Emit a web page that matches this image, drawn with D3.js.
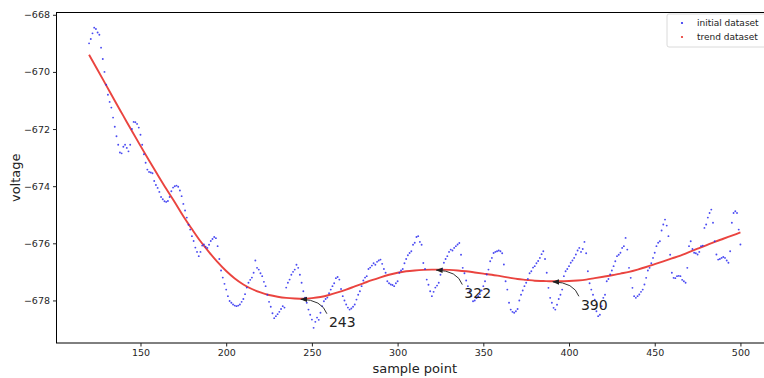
<!DOCTYPE html>
<html><head><meta charset="utf-8">
<script src="https://cdn.jsdelivr.net/npm/d3@7"></script>
<style>body{margin:0;background:#fff}svg{display:block}text{font-family:"DejaVu Sans",sans-serif}</style>
</head><body><svg id="c" width="764" height="378"></svg>
<script>
// ---- data ----
const sampleStart = 120; // initial dataset: one value per sample point 120..500
const initialValues = [
-669.00,-668.85,-668.65,-668.45,-668.50,-668.62,-668.70,-669.15,-669.55,-670.00,
-670.45,-670.80,-671.05,-671.25,-671.60,-671.92,-672.25,-672.55,-672.82,-672.85,
-672.62,-672.55,-672.66,-672.78,-672.55,-672.00,-671.75,-671.76,-671.82,-671.95,
-672.20,-672.55,-672.88,-673.18,-673.42,-673.50,-673.52,-673.55,-673.82,-673.96,
-674.06,-674.20,-674.38,-674.46,-674.53,-674.55,-674.52,-674.38,-674.18,-674.05,
-674.00,-673.98,-674.02,-674.15,-674.35,-674.62,-674.85,-675.10,-675.35,-675.52,
-675.75,-675.92,-676.15,-676.30,-676.45,-676.30,-676.08,-676.04,-676.12,-676.16,
-676.05,-675.92,-675.85,-675.78,-675.82,-676.10,-676.55,-676.95,-677.20,-677.42,
-677.62,-677.85,-678.02,-678.08,-678.14,-678.18,-678.20,-678.18,-678.14,-678.05,
-677.95,-677.78,-677.55,-677.38,-677.28,-677.20,-677.03,-676.60,-676.86,-676.92,
-677.05,-677.15,-677.35,-677.50,-677.80,-678.05,-678.22,-678.45,-678.62,-678.55,
-678.48,-678.40,-678.30,-678.20,-678.25,-677.55,-677.38,-677.27,-677.10,-677.00,
-676.92,-676.75,-676.86,-677.10,-677.38,-677.68,-677.90,-678.08,-678.32,-678.50,
-678.67,-678.96,-678.75,-678.60,-678.68,-678.43,-678.20,-678.03,-677.95,-677.90,
-677.75,-677.62,-677.50,-677.40,-677.22,-677.18,-677.27,-677.60,-677.85,-678.00,
-678.14,-678.25,-678.32,-678.28,-678.22,-678.14,-677.97,-677.80,-677.68,-677.50,
-677.30,-677.20,-677.15,-676.90,-676.85,-676.78,-676.70,-676.75,-676.65,-676.60,
-676.57,-676.72,-676.90,-677.03,-677.33,-677.40,-677.44,-677.46,-677.50,-677.40,
-677.33,-677.03,-676.95,-676.90,-676.70,-676.55,-676.42,-676.34,-676.28,-676.05,
-675.98,-675.78,-675.75,-675.95,-676.05,-676.69,-676.90,-677.27,-677.45,-677.68,
-677.85,-677.70,-677.55,-677.48,-677.38,-677.10,-676.90,-676.68,-676.55,-676.45,
-676.30,-676.22,-676.25,-676.16,-676.10,-676.04,-675.99,-676.40,-676.86,-677.05,
-677.30,-677.50,-677.68,-677.85,-678.03,-678.00,-677.92,-677.85,-677.78,-677.65,
-677.50,-677.33,-677.09,-676.92,-676.63,-676.51,-676.34,-676.30,-676.28,-676.25,
-676.28,-676.35,-676.74,-677.33,-677.62,-678.08,-678.32,-678.40,-678.43,-678.38,
-678.30,-678.00,-677.80,-677.65,-677.50,-677.38,-677.25,-677.05,-676.98,-676.85,
-676.80,-676.70,-676.62,-676.51,-676.38,-676.28,-676.55,-677.03,-677.56,-677.91,
-678.08,-678.26,-678.32,-678.15,-677.95,-677.80,-677.62,-677.15,-676.98,-676.90,
-676.80,-676.68,-676.60,-676.51,-676.39,-676.25,-676.16,-676.30,-676.20,-675.95,
-676.35,-676.98,-677.40,-677.62,-677.80,-677.97,-678.38,-678.55,-678.50,-678.20,
-677.91,-677.80,-677.33,-677.25,-677.09,-676.95,-676.80,-676.63,-676.45,-676.40,
-676.33,-676.16,-676.10,-675.81,-676.22,-676.86,-677.21,-677.56,-677.85,-677.91,
-677.85,-677.79,-677.70,-677.62,-677.44,-677.21,-676.95,-676.86,-676.70,-676.51,
-676.33,-676.10,-675.98,-675.93,-675.55,-675.34,-675.17,-675.38,-675.75,-676.40,
-677.03,-677.21,-677.22,-677.15,-677.14,-677.15,-677.28,-677.33,-677.38,-676.86,
-676.10,-675.93,-676.20,-676.33,-676.35,-676.39,-676.30,-676.10,-676.08,-675.46,
-675.34,-675.10,-674.94,-674.82,-675.28,-675.93,-676.39,-676.57,-676.55,-676.51,
-676.48,-676.51,-676.60,-676.68,-676.28,-675.28,-674.94,-674.88,-674.94,-675.52,
-676.04
];
const trendX = [120,125,130,135,140,145,150,155,160,165,170,175,180,185,190,195,200,205,210,215,
220,225,230,235,240,245,250,255,260,265,270,275,280,285,290,295,300,305,310,315,
320,325,330,335,340,345,350,355,360,365,370,375,380,385,390,395,400,405,410,415,
420,425,430,435,440,445,450,455,460,465,470,475,480,485,490,495,500];
const trendValues = [-669.40,-669.93,-670.47,-671.01,-671.54,-672.07,-672.59,-673.10,-673.60,-674.09,
-674.56,-675.05,-675.50,-675.93,-676.31,-676.66,-676.97,-677.23,-677.44,-677.60,
-677.72,-677.81,-677.87,-677.91,-677.93,-677.94,-677.92,-677.88,-677.81,-677.72,
-677.62,-677.51,-677.40,-677.29,-677.19,-677.10,-677.03,-676.98,-676.95,-676.93,
-676.92,-676.92,-676.93,-676.95,-676.98,-677.02,-677.06,-677.10,-677.15,-677.20,
-677.25,-677.28,-677.31,-677.32,-677.33,-677.33,-677.32,-677.30,-677.27,-677.22,
-677.17,-677.12,-677.06,-677.00,-676.92,-676.83,-676.73,-676.63,-676.53,-676.43,
-676.31,-676.19,-676.07,-675.95,-675.84,-675.73,-675.62];
const annotX = [243, 322, 390];
const annotY = [-677.94, -676.92, -677.33];
const annotLabels = ["243", "322", "390"];
const xTicks = [150,200,250,300,350,400,450,500];
const yTicks = [-668,-670,-672,-674,-676,-678];
const legendLabels = ["initial dataset", "trend dataset"];

// ---- chart ----
const svg = d3.select("#c");
const L = 56.5, R = 773, T = 12.5, B = 343;
const x = d3.scaleLinear().domain([101, 519]).range([L, R]);
const y = d3.scaleLinear().domain([-679.49, -667.92]).range([B, T]);
const fmt = d => String(d).replace("-", "\u2212");

const blue = "#2b2bf0", red = "#e8302a";

// trend
svg.append("path")
  .datum(trendX.map((d, i) => [d, trendValues[i]]))
  .attr("fill", "none").attr("stroke", red).attr("stroke-width", 1.9).attr("stroke-opacity", 0.9)
  .attr("d", d3.line().x(d => x(d[0])).y(d => y(d[1])).curve(d3.curveMonotoneX));

// initial dataset dots
svg.append("g").selectAll("circle").data(initialValues).join("circle")
  .attr("cx", (d, i) => x(sampleStart + i)).attr("cy", d => y(d))
  .attr("r", 0.95).attr("fill", blue).attr("fill-opacity", 0.85);

// frame
svg.append("rect").attr("x", L).attr("y", T).attr("width", R - L).attr("height", B - T)
  .attr("fill", "none").attr("stroke", "#000").attr("stroke-width", 1);

// axes
const gx = svg.append("g").attr("transform", `translate(0,${B})`)
  .call(d3.axisBottom(x).tickValues(xTicks).tickSize(3.5).tickPadding(3).tickFormat(d => d));
const gy = svg.append("g").attr("transform", `translate(${L},0)`)
  .call(d3.axisLeft(y).tickValues(yTicks).tickSize(3.5).tickPadding(3).tickFormat(fmt));
[gx, gy].forEach(g => {
  g.select(".domain").remove();
  g.selectAll("text").attr("font-family", "DejaVu Sans").attr("font-size", 9.5).attr("fill", "#262626");
  g.selectAll("line").attr("stroke", "#222");
});

// axis titles
svg.append("text").attr("x", (L + R) / 2).attr("y", 373).attr("text-anchor", "middle")
  .attr("font-size", 13).attr("fill", "#222").text("sample point");
svg.append("text").attr("transform", `translate(20,${(T + B) / 2}) rotate(-90)`)
  .attr("text-anchor", "middle").attr("font-size", 13).attr("fill", "#222").text("voltage");

// annotations
const defs = svg.append("defs");
defs.append("marker").attr("id", "ah").attr("viewBox", "0 0 10 10").attr("refX", 9).attr("refY", 5)
  .attr("markerWidth", 7).attr("markerHeight", 7).attr("markerUnits", "userSpaceOnUse").attr("orient", "auto")
  .append("path").attr("d", "M0,1 L10,5 L0,9 Z").attr("fill", "#222");
annotX.forEach((ax, i) => {
  const px = x(ax), py = y(annotY[i]);
  const sx = px + 27, sy = py + 15;
  const ex = px + 1, ey = py + 0.5;
  const cx = px + 22, cy = py + 1;
  svg.append("path").attr("d", `M${sx},${sy} Q${cx},${cy} ${ex},${ey}`)
    .attr("fill", "none").attr("stroke", "#333").attr("stroke-width", 1).attr("marker-end", "url(#ah)");
  svg.append("text").attr("x", px + 29).attr("y", py + 28.5).attr("font-size", 14).attr("fill", "#222")
    .text(annotLabels[i]);
});

// legend
const lg = svg.append("g");
lg.append("rect").attr("x", 667).attr("y", 14).attr("width", 110).attr("height", 33).attr("rx", 2)
  .attr("fill", "#fff").attr("fill-opacity", 0.85).attr("stroke", "#d0d0d0").attr("stroke-width", 0.8);
[blue, red].forEach((c, i) => {
  lg.append("circle").attr("cx", 682).attr("cy", 23 + i * 14).attr("r", 1.1).attr("fill", c);
  lg.append("text").attr("x", 697).attr("y", 26 + i * 14).attr("font-size", 9).attr("fill", "#222")
    .text(legendLabels[i]);
});
</script></body></html>
